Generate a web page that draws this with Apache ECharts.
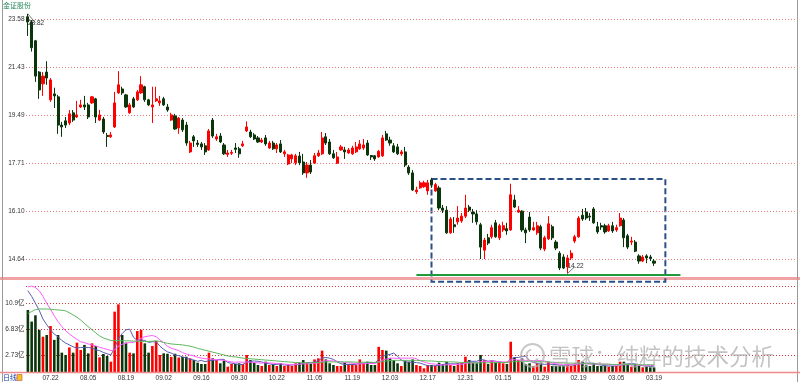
<!DOCTYPE html>
<html><head><meta charset="utf-8">
<script src="https://cdn.jsdelivr.net/npm/echarts@6/dist/echarts.min.js"></script>
<style>html,body{margin:0;padding:0;background:#fff}#c{width:800px;height:382px}</style>
</head><body><div id="c"></div>
<script>
const categories = [
'07.14','07.15','07.16','07.17','07.20','07.21','07.22','07.23','07.24','07.27','07.28','07.29','07.30','07.31',
'08.03','08.04','08.05','08.06','08.07','08.10','08.11','08.12','08.13','08.14','08.17','08.18','08.19','08.20','08.21','08.24','08.25','08.26','08.27','08.28','08.31',
'09.01','09.02','09.03','09.04','09.07','09.08','09.09','09.10','09.11','09.14','09.15','09.16','09.17','09.18','09.21','09.22','09.23','09.24','09.25','09.28','09.29','09.30',
'10.09','10.12','10.13','10.14','10.15','10.16','10.19','10.20','10.21','10.22','10.23','10.26','10.27','10.28','10.29','10.30',
'11.02','11.03','11.04','11.05','11.06','11.09','11.10','11.11','11.12','11.13','11.16','11.17','11.18','11.19','11.20','11.23','11.24','11.25','11.26','11.27','11.30',
'12.01','12.02','12.03','12.04','12.07','12.08','12.09','12.10','12.11','12.14','12.15','12.16','12.17','12.18','12.21','12.22','12.23','12.24','12.25','12.28','12.29','12.30','12.31',
'01.04','01.05','01.06','01.07','01.08','01.11','01.12','01.13','01.14','01.15','01.18','01.19','01.20','01.21','01.22','01.25','01.26','01.27','01.28','01.29',
'02.01','02.02','02.03','02.04','02.05','02.08','02.09','02.10','02.18','02.19','02.22','02.23','02.24','02.25','02.26',
'03.01','03.02','03.03','03.04','03.05','03.08','03.09','03.10','03.11','03.12','03.15','03.16','03.17','03.18','03.19'];

const openP = [
23.68,23.44,22.58,21.22,20.73,21.22,20.08,20.32,20.20,19.10,
19.26,19.18,19.57,19.41,19.80,19.88,19.88,19.96,20.12,19.29,
19.33,18.71,18.66,19.03,20.36,20.52,20.28,19.57,20.12,20.08,
20.36,20.61,20.08,19.80,20.04,19.96,20.12,19.80,19.29,19.45,
18.99,19.29,19.10,18.11,18.66,18.43,18.40,18.33,18.18,19.29,
18.58,18.69,18.36,18.02,18.06,18.25,18.22,18.33,18.88,18.84,
18.73,18.62,18.47,18.62,18.25,18.43,18.22,18.40,18.04,17.68,
17.86,17.72,17.96,17.75,17.37,17.64,17.71,17.97,18.04,18.66,
18.47,18.04,17.71,18.18,18.18,18.07,18.04,18.11,18.22,18.25,
18.43,17.98,17.97,17.93,17.97,18.77,18.54,18.33,18.29,18.04,
18.11,17.57,17.37,16.73,16.86,16.90,16.76,17.13,16.76,16.86,
16.20,16.13,15.42,15.67,15.76,15.79,15.94,16.23,16.07,16.01,
15.67,14.90,15.27,15.30,15.73,15.27,15.51,15.55,15.51,16.46,
16.07,16.10,15.51,15.91,15.51,15.42,15.61,14.93,15.24,15.61,
15.14,14.81,14.70,14.41,14.67,15.17,15.30,15.97,16.07,15.94,
16.17,15.61,15.64,15.64,15.48,15.64,15.51,15.64,15.82,15.33,
15.14,15.14,14.73,14.58,14.73,14.70,14.58];
const closeP = [
23.44,22.27,21.05,20.48,21.05,20.97,20.89,20.24,19.10,19.03,
19.10,19.53,19.29,19.49,19.88,19.80,19.41,20.20,19.41,19.49,
18.84,18.67,18.73,19.96,20.69,20.36,19.80,19.88,19.80,20.40,
20.69,20.08,19.88,19.88,20.12,20.04,19.88,19.68,19.49,18.95,
19.37,18.92,18.43,18.43,18.51,18.38,18.29,18.11,18.88,18.69,
18.66,18.47,18.04,18.07,18.09,18.20,18.04,18.40,19.03,18.66,
18.58,18.47,18.54,18.40,18.43,18.22,18.36,18.11,18.11,18.00,
18.00,17.97,17.72,17.37,17.64,17.40,17.97,18.07,18.62,18.43,
18.04,17.90,17.93,18.29,18.11,18.18,18.25,18.29,18.40,18.36,
18.00,17.93,17.86,18.13,18.62,18.54,18.43,18.11,18.04,18.11,
17.64,17.37,16.79,16.79,17.03,17.03,17.03,16.97,16.97,16.20,
16.13,15.42,15.85,15.61,15.88,15.94,16.20,16.13,16.01,15.76,
14.99,15.20,15.11,15.58,15.30,15.64,15.64,15.48,16.63,16.23,
16.13,15.51,15.42,15.51,15.58,15.64,14.96,15.27,15.70,15.27,
14.96,14.38,14.38,14.67,14.81,15.30,15.88,15.85,15.88,15.91,
15.73,15.45,15.60,15.45,15.64,15.48,15.58,15.88,15.27,14.99,
15.17,14.87,14.58,14.70,14.67,14.65,14.52];
const lowP = [
22.80,22.10,20.81,20.12,20.24,20.69,20.00,19.76,18.77,18.66,
18.99,19.10,19.22,19.37,19.76,19.68,19.33,19.92,19.18,19.26,
18.77,18.29,18.62,18.99,20.32,20.28,19.76,19.53,19.76,20.04,
20.32,20.00,19.84,19.18,20.00,19.84,19.84,19.61,19.26,18.92,
18.77,18.84,18.33,18.07,18.29,18.29,18.18,18.00,18.15,18.62,
18.51,18.43,18.00,17.93,18.00,18.07,17.90,18.29,18.84,18.62,
18.54,18.43,18.43,18.33,18.22,18.18,18.07,18.07,17.93,17.64,
17.71,17.64,17.64,17.30,17.20,17.33,17.68,17.93,18.00,18.36,
18.00,17.86,17.68,18.15,17.86,18.04,18.00,18.07,18.18,18.18,
17.97,17.82,17.79,17.90,17.93,18.51,18.33,18.07,18.00,17.97,
17.57,17.30,16.76,16.66,16.83,16.86,16.63,16.86,16.73,16.13,
16.04,15.39,15.39,15.42,15.67,15.73,15.88,16.07,15.73,15.67,
14.64,14.64,15.05,15.24,15.27,15.20,15.45,15.36,15.48,16.20,
16.04,15.45,15.11,15.45,15.48,15.36,14.90,14.87,15.20,15.20,
14.90,14.32,14.35,14.22,14.61,15.11,15.27,15.79,15.82,15.79,
15.70,15.39,15.51,15.39,15.45,15.42,15.45,15.61,14.99,14.93,
15.05,14.84,14.50,14.55,14.52,14.58,14.44];
const highP = [
23.82,23.53,22.62,21.26,21.22,21.68,20.97,20.57,20.28,19.22,
19.41,19.68,19.68,20.04,20.08,20.24,19.96,20.24,20.16,19.68,
19.41,18.80,18.84,20.40,21.26,20.61,20.32,19.96,20.20,20.48,
21.05,20.65,20.12,20.61,20.61,20.24,20.20,19.92,19.57,19.53,
19.41,19.37,19.22,18.51,18.73,18.54,18.47,18.43,18.95,19.37,
18.77,18.80,18.43,18.18,18.18,18.43,18.29,18.51,19.24,18.92,
18.80,18.69,18.62,18.73,18.51,18.51,18.43,18.54,18.18,18.04,
18.04,18.04,18.11,18.04,17.75,17.82,18.07,18.18,18.84,18.80,
18.58,18.18,18.11,18.36,18.29,18.25,18.33,18.47,18.54,18.58,
18.54,18.00,18.00,18.18,18.73,18.88,18.66,18.43,18.40,18.18,
18.29,17.64,17.47,16.90,17.10,17.10,17.13,17.20,17.03,16.93,
16.30,16.26,15.91,15.91,16.26,16.04,16.63,16.30,16.17,16.13,
15.73,15.27,15.39,15.67,15.82,15.70,15.76,15.73,17.00,16.63,
16.26,16.13,15.58,16.07,15.76,15.76,15.67,15.33,15.94,15.67,
15.20,14.87,14.78,14.76,14.90,15.36,15.94,16.17,16.20,16.04,
16.23,15.76,15.73,15.70,15.70,15.76,15.67,16.04,15.88,15.39,
15.30,15.20,14.78,14.76,14.78,14.76,14.64];

// volume, unit: 亿
const volume = [
9.84,8.0,9.0,6.7,5.6,5.87,7.3,5.1,5.87,3.07,
2.7,3.9,3.07,4.66,3.5,4.3,2.96,4.55,4.13,2.33,
2.86,2.54,1.64,9.58,10.74,5.87,4.66,3.07,2.96,6.5,
6.7,4.55,3.07,4.13,4.92,2.7,2.96,2.9,2.4,2.9,
2.3,2.4,2.43,2.17,1.9,1.48,1.27,1.27,3.07,2.17,
1.9,1.38,1.8,0.85,1.27,1.27,1.38,1.27,2.7,1.9,
1.48,1.11,0.95,1.64,1.11,1.27,0.95,1.38,0.95,1.11,
0.95,1.38,1.48,1.9,1.48,1.27,2.0,2.17,3.39,2.0,
1.38,1.11,0.95,0.95,1.48,1.27,1.27,1.1,2.0,1.38,
1.64,1.11,1.11,4.0,3.5,3.39,2.17,1.9,1.38,0.95,
1.8,1.64,2.0,1.11,0.95,0.58,1.11,1.11,0.95,1.48,
1.27,1.64,1.11,0.95,1.38,1.48,2.43,1.9,1.48,1.38,
2.7,1.9,1.27,1.8,1.48,1.64,1.38,1.27,4.8,2.33,
1.9,2.17,1.27,1.38,0.95,1.38,1.48,0.85,1.64,0.95,
0.95,1.06,0.95,1.27,0.95,1.38,1.9,1.64,1.11,0.95,
1.38,0.95,0.95,0.95,0.85,0.95,0.95,1.64,1.64,1.27,
0.85,1.27,0.95,0.74,0.85,0.74,0.74];
const volMaBlue = [
12.9,12.0,10.9,9.8,8.4,7.5,6.7,6.0,5.6,5.0,
4.6,4.3,4.0,3.8,3.9,3.9,3.9,3.8,3.5,3.4,
3.1,2.9,2.7,3.8,5.3,6.1,6.7,6.8,5.5,5.0,
5.1,5.0,4.7,4.8,4.8,4.1,3.6,3.2,3.0,2.7,
2.6,2.4,2.2,2.0,1.9,1.7,1.85,1.62,1.8,1.85,
1.9,2.0,2.0,1.5,1.4,1.3,1.2,1.2,1.6,1.7,
1.75,1.7,1.6,1.4,1.3,1.2,1.2,1.3,1.1,1.1,
1.1,1.15,1.2,1.4,1.45,1.5,1.6,1.8,2.2,2.3,
2.2,2.0,1.6,1.3,1.2,1.2,1.2,1.2,1.4,1.4,
1.5,1.5,1.45,2.0,2.5,2.7,2.8,3.0,2.5,1.9,
1.6,1.55,1.55,1.5,1.4,1.2,1.0,0.95,1.0,1.1,
1.2,1.3,1.3,1.3,1.3,1.2,1.5,1.7,1.7,1.7,
2.0,1.9,1.7,1.8,1.7,1.6,1.5,1.5,2.1,2.3,
2.3,2.5,2.5,1.8,1.5,1.4,1.3,1.2,1.3,1.2,
1.2,1.1,1.0,1.1,1.1,1.1,1.3,1.4,1.4,1.4,
1.4,1.2,1.1,1.0,0.95,0.95,0.95,1.1,1.2,1.3,
1.3,1.3,1.1,1.0,0.95,0.9,0.8];
const volMaMagenta = [
13.5,13.65,13.4,12.9,12.0,10.9,9.95,8.9,8.0,7.2,
6.56,6.03,5.6,5.19,4.8,4.66,4.44,4.29,4.13,3.92,
3.76,3.6,3.39,3.5,4.1,4.4,4.55,4.7,4.7,4.97,
5.34,5.6,5.7,5.8,5.6,5.1,4.66,4.1,3.76,3.6,
3.4,3.07,2.86,2.7,2.54,2.33,2.2,2.1,2.1,2.0,
1.95,1.9,1.85,1.7,1.6,1.55,1.6,1.55,1.6,1.55,
1.5,1.45,1.4,1.5,1.45,1.4,1.35,1.3,1.25,1.2,
1.2,1.2,1.25,1.3,1.3,1.35,1.4,1.45,1.7,1.8,
1.8,1.75,1.7,1.6,1.5,1.45,1.4,1.3,1.3,1.3,
1.35,1.35,1.35,1.6,1.9,2.05,2.2,2.2,2.15,2.2,
2.2,2.2,2.25,2.1,1.8,1.6,1.4,1.3,1.25,1.15,
1.1,1.15,1.15,1.15,1.2,1.25,1.35,1.45,1.45,1.5,
1.65,1.7,1.7,1.75,1.7,1.6,1.6,1.6,1.9,1.95,
1.9,1.9,1.85,1.85,1.8,1.85,1.8,1.75,1.55,1.4,
1.3,1.25,1.2,1.15,1.15,1.2,1.25,1.3,1.3,1.25,
1.25,1.25,1.25,1.25,1.2,1.15,1.1,1.1,1.15,1.15,
1.1,1.1,1.1,1.05,1.05,1.05,1.0];
const volMaGreen = [
9.3,9.6,9.9,10.0,10.0,10.0,9.95,9.9,9.85,9.8,
9.7,9.4,9.05,8.7,8.25,7.7,7.2,6.7,6.2,5.75,
5.4,5.2,5.0,5.0,5.0,4.95,4.95,4.95,4.9,4.9,
4.85,4.85,4.85,4.9,4.95,4.85,4.7,4.55,4.45,4.4,
4.35,4.3,4.2,4.1,3.95,3.75,3.6,3.45,3.3,3.15,
3.0,2.85,2.7,2.55,2.45,2.4,2.3,2.2,2.15,2.1,
2.05,2.0,1.95,1.9,1.85,1.8,1.75,1.7,1.65,1.6,
1.55,1.5,1.5,1.45,1.45,1.45,1.5,1.5,1.55,1.6,
1.6,1.6,1.6,1.6,1.6,1.6,1.6,1.55,1.55,1.55,
1.55,1.55,1.5,1.55,1.65,1.75,1.8,1.85,1.85,1.85,
1.85,1.85,1.85,1.85,1.8,1.8,1.75,1.75,1.7,1.65,
1.65,1.6,1.6,1.6,1.55,1.5,1.5,1.5,1.45,1.45,
1.45,1.45,1.45,1.5,1.5,1.5,1.5,1.5,1.6,1.65,
1.65,1.7,1.7,1.7,1.65,1.65,1.65,1.6,1.6,1.55,
1.5,1.45,1.45,1.4,1.4,1.4,1.4,1.35,1.35,1.3,
1.3,1.3,1.25,1.25,1.25,1.2,1.2,1.2,1.2,1.2,
1.2,1.2,1.15,1.15,1.15,1.15,1.15];

const priceTicks = ['14.64','16.10','17.71','19.49','21.43','23.58'];
const volTicks = ['2.73','6.83','10.9'];
const volTop = 13.65;
const dateTicks = ['07.22','08.05','08.19','09.02','09.16','09.30','10.22','11.05','11.19','12.03','12.17','12.31','01.15','01.29','02.19','03.05','03.19'];
const highMark = {idx: 0, value: 23.82};
const lowMark = {idx: 143, value: 14.22};
const supportLevel = 14.18;
const boxRange = {x0: 107, x1: 169, top: 17.16, bottom: 13.99};
const supportRange = {x0: 103, x1: 173};

// layout helpers (empty right-hand slots like the trading software)
const slots = 204;
const axisData = categories.concat(Array.from({length: slots - categories.length}, (_, k) => 'pad' + k));

const UP = '#ff0000', DOWN = '#0b360b';
const FONT = '"Liberation Sans","Noto Sans CJK SC",sans-serif';
const candleData = openP.map((o, i) => [o, closeP[i], lowP[i], highP[i]]);
const volData = volume.map((v, i) => ({value: v, itemStyle: {color: closeP[i] >= openP[i] ? UP : DOWN}}));

const chart = echarts.init(document.getElementById('c'), null, {renderer: 'canvas'});
const smallLabel = {color: '#333', fontSize: 6.5, fontFamily: FONT};
const mkAxisX = (gi, showLabel) => ({
  type: 'category', gridIndex: gi, data: axisData, boundaryGap: true,
  axisLine: {show: false}, axisTick: {show: false}, splitLine: {show: false},
  axisLabel: showLabel ? Object.assign({show: true, margin: 2.5, interval: (idx, val) => dateTicks.indexOf(val) >= 0}, smallLabel) : {show: false}
});

chart.setOption({
  animation: false,
  backgroundColor: '#fff',
  grid: [
    {left: 26, right: 4.5, top: 12, height: 272},
    {left: 26, right: 4.5, top: 286, height: 86}
  ],
  xAxis: [mkAxisX(0, false), mkAxisX(1, true)],
  yAxis: [
    {type: 'log', logBase: 1.1, gridIndex: 0, min: 13.931, max: 23.908, show: false, splitLine: {show: false}},
    {type: 'value', gridIndex: 1, min: 0, max: volTop, show: false, splitLine: {show: false}}
  ],
  series: [
    {
      type: 'line', xAxisIndex: 0, yAxisIndex: 0, data: [], silent: true,
      markLine: {
        silent: true, symbol: ['none', 'none'], z: 1, animation: false,
        lineStyle: {color: '#e67a7a', type: [1, 2], width: 1},
        label: Object.assign({position: 'start', distance: 1.5}, smallLabel),
        data: priceTicks.map(t => ({yAxis: parseFloat(t), label: {formatter: t}}))
      }
    },
    {
      type: 'candlestick', xAxisIndex: 0, yAxisIndex: 0, data: candleData, barWidth: 2.6,
      itemStyle: {color: UP, color0: DOWN, borderColor: UP, borderColor0: DOWN, borderWidth: 1},
      markArea: {
        silent: true,
        itemStyle: {color: 'rgba(0,0,0,0)', borderColor: '#2b4f86', borderWidth: 2, borderType: [6, 3]},
        data: [[{coord: [boxRange.x0, boxRange.top]}, {coord: [boxRange.x1, boxRange.bottom]}]]
      },
      markLine: {
        silent: true, symbol: ['none', 'none'], animation: false,
        data: [
          [{coord: [supportRange.x0, supportLevel], lineStyle: {color: '#1f9a3c', width: 2, type: 'solid'}, label: {show: false}},
           {coord: [supportRange.x1, supportLevel]}],
          [{coord: [highMark.idx, highMark.value], lineStyle: {color: '#777', width: 1, type: 'solid'},
            label: Object.assign({show: true, position: 'end', distance: 1, formatter: highMark.value.toFixed(2)}, smallLabel)},
           {coord: [highMark.idx + 2, 23.40]}],
          [{coord: [lowMark.idx, lowMark.value], lineStyle: {color: '#777', width: 1, type: 'solid'},
            label: Object.assign({show: true, position: 'end', distance: 1, formatter: lowMark.value.toFixed(2)}, smallLabel)},
           {coord: [lowMark.idx + 2, 14.42]}]
        ]
      }
    },
    {
      type: 'bar', xAxisIndex: 1, yAxisIndex: 1, data: volData, barWidth: 2.6,
      markLine: {
        silent: true, symbol: ['none', 'none'], z: 1, animation: false,
        lineStyle: {color: '#d83a3a', type: [1, 2], width: 1},
        label: Object.assign({position: 'start', distance: 1.5}, smallLabel),
        data: volTicks.map(t => ({yAxis: parseFloat(t), label: {formatter: t + '亿'}}))
          .concat([{yAxis: volTop, label: {show: false}}])
      }
    },
    {type: 'line', xAxisIndex: 1, yAxisIndex: 1, data: volMaBlue, symbol: 'none', lineStyle: {color: '#5a5ab4', width: 1}, silent: true},
    {type: 'line', xAxisIndex: 1, yAxisIndex: 1, data: volMaMagenta, symbol: 'none', lineStyle: {color: '#ff5cff', width: 1}, silent: true},
    {type: 'line', xAxisIndex: 1, yAxisIndex: 1, data: volMaGreen, symbol: 'none', lineStyle: {color: '#5cb85c', width: 1}, silent: true}
  ],
  graphic: [
    {type: 'line', shape: {x1: 2.5, y1: 0, x2: 2.5, y2: 382}, style: {stroke: '#9a9a9a', lineWidth: 1}, z: 10},
    {type: 'line', shape: {x1: 797.5, y1: 0, x2: 797.5, y2: 382}, style: {stroke: '#9a9a9a', lineWidth: 1}, z: 10},
    {type: 'line', shape: {x1: 0, y1: 278.5, x2: 800, y2: 278.5}, style: {stroke: '#f2a2a2', lineWidth: 3}, z: 0},
    {type: 'line', shape: {x1: 0, y1: 372.5, x2: 800, y2: 372.5}, style: {stroke: '#ee8a8a', lineWidth: 1.5}, z: 10},
    {type: 'text', left: 3, top: 2, style: {text: '金证股份', fill: '#2a8a5e', font: '7px "Noto Sans CJK SC"'}},
    {type: 'text', left: 3, top: 373.5, style: {text: '日线', fill: '#1a3caa', font: '7px "Noto Sans CJK SC"'}},
    {type: 'rect', shape: {x: 17, y: 374.5, width: 5, height: 6}, style: {fill: '#f2c328', stroke: '#c03020', lineWidth: 0.5}},
    {type: 'circle', shape: {cx: 532.5, cy: 355.5, r: 11.5}, style: {fill: 'none', stroke: 'rgba(175,175,175,0.7)', lineWidth: 2}, z: 20},
    {type: 'arc', shape: {cx: 532.5, cy: 355.5, r: 6, startAngle: 0.5, endAngle: 4.5}, style: {fill: 'none', stroke: 'rgba(175,175,175,0.7)', lineWidth: 2}, z: 20},
    {type: 'text', x: 549, y: 345, style: {text: '雪球：纯粹的技术分析', fill: 'rgba(170,170,170,0.7)', font: '22.5px "Noto Sans CJK SC"'}, z: 20}
  ]
});
</script></body></html>
